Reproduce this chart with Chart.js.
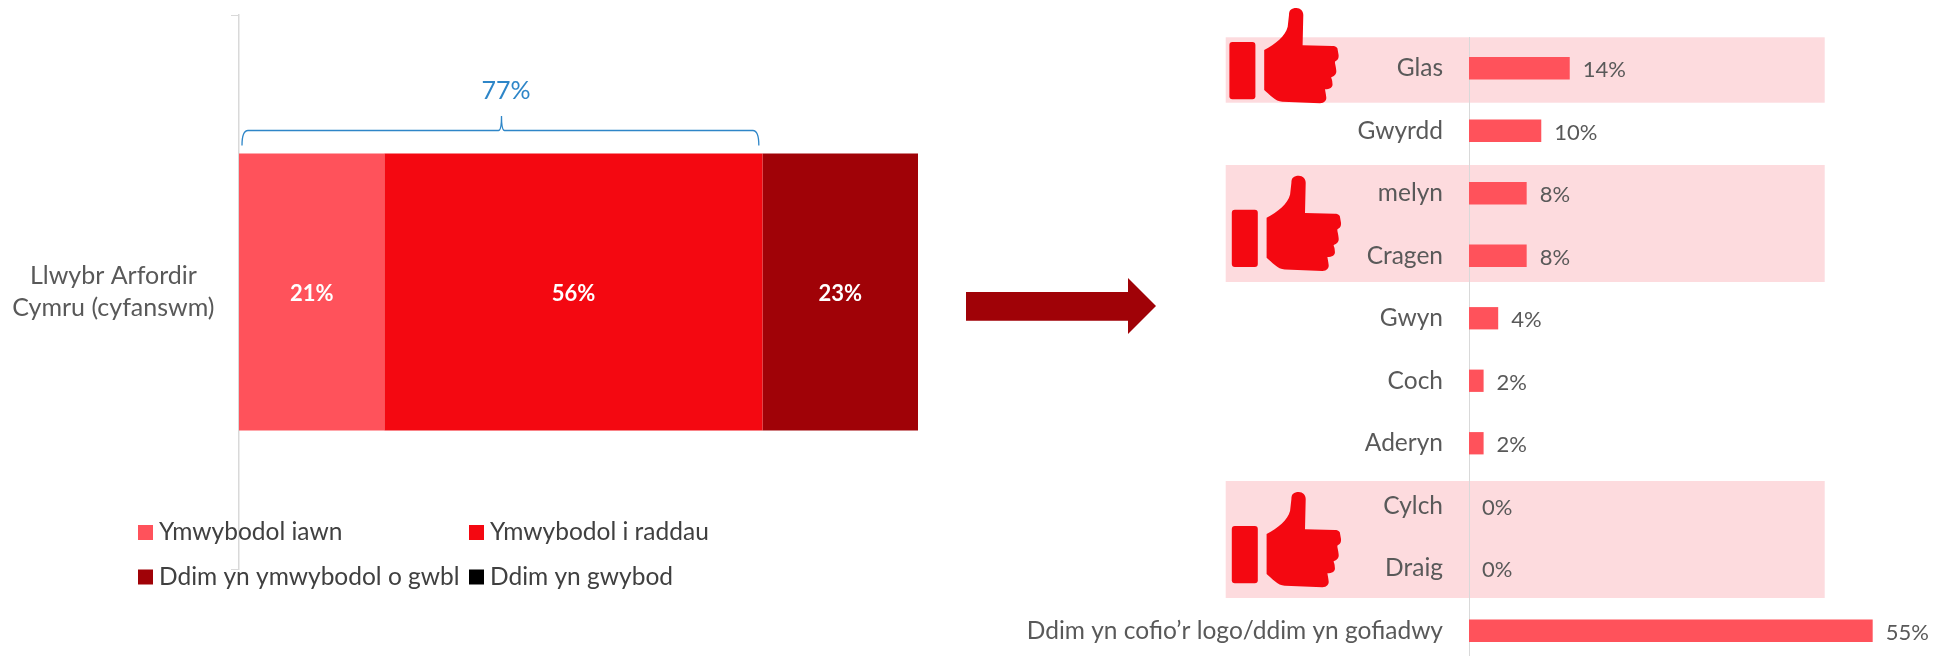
<!DOCTYPE html>
<html>
<head>
<meta charset="utf-8">
<script src="https://cdn.jsdelivr.net/npm/chart.js@4"></script>
<style>
html, body { margin: 0; padding: 0; background: #fff; overflow: hidden; }
body { width: 1933px; height: 656px; position: relative; }
canvas { position: absolute; top: 0; }
#awarenessChart { left: 0; }
#logoChart { left: 1000px; }
</style>
</head>
<body>
<canvas id="awarenessChart" width="1200" height="656"></canvas>
<canvas id="logoChart" width="933" height="662"></canvas>
<script>
const FONT = '"Lato", "Open Sans", sans-serif';

// left chart
const awarenessCategory = [["Llwybr Arfordir", "Cymru (cyfanswm)"]];
const awarenessLabels = ["Ymwybodol iawn", "Ymwybodol i raddau", "Ddim yn ymwybodol o gwbl", "Ddim yn gwybod"];
const awarenessValues = [21.4, 55.7, 22.9, 0];
const awarenessColors = ["#ff525b", "#f40811", "#a00207", "#000000"];
const bracketValue = 77;

// right chart
const logoCategories = ["Glas", "Gwyrdd", "melyn", "Cragen", "Gwyn", "Coch", "Aderyn", "Cylch", "Draig", "Ddim yn cofio’r logo/ddim yn gofiadwy"];
const logoValues = [13.8, 9.9, 7.9, 7.9, 4, 2, 2, 0, 0, 55.3];

// the scale pads itself by half a label + tick padding, we want exact plot edges
function fixAxis(width) {
    return function (scale) {
        scale.width = width;
        scale.paddingTop = 0;
        scale.paddingBottom = 0;
    };
}

// draws the 21% / 56% / 23% labels
const stackLabels = {
    id: 'stackLabels',
    afterDatasetsDraw(chart) {
        const ctx = chart.ctx;
        ctx.save();
        ctx.font = 'bold 22px ' + FONT;
        ctx.fillStyle = '#fff';
        ctx.textAlign = 'center';
        ctx.textBaseline = 'middle';
        chart.data.datasets.forEach((ds, i) => {
            if (!ds.data[0]) return;
            const bar = chart.getDatasetMeta(i).data[0];
            ctx.fillText(Math.round(ds.data[0]) + '%', (bar.x + bar.base) / 2, bar.y + 2);
        });
        ctx.restore();
    }
};

// brace over the "aware" part, the total above it, and the legend
const leftExtras = {
    id: 'leftExtras',
    afterDraw(chart) {
        const ctx = chart.ctx;
        const x = chart.scales.x;
        const l = x.getPixelForValue(0) + 3, r = x.getPixelForValue(bracketValue) - 3;
        const mid = 501.5;
        ctx.save();
        ctx.strokeStyle = '#2e86c8';
        ctx.lineWidth = 1.3;
        ctx.beginPath();
        ctx.moveTo(l, 145.5);
        ctx.quadraticCurveTo(l, 130.5, l + 6, 130.5);
        ctx.lineTo(mid - 3, 130.5);
        ctx.quadraticCurveTo(mid, 130.5, mid, 116);
        ctx.quadraticCurveTo(mid, 130.5, mid + 3, 130.5);
        ctx.lineTo(r - 6, 130.5);
        ctx.quadraticCurveTo(r, 130.5, r, 145.5);
        ctx.stroke();
        ctx.font = '25px ' + FONT;
        ctx.fillStyle = '#2e86c8';
        ctx.textAlign = 'center';
        ctx.textBaseline = 'middle';
        ctx.fillText(bracketValue + '%', 506, 91);

        // legend, 2 x 2
        const cols = [138, 469], rows = [532.5, 577];
        ctx.font = '24.5px ' + FONT;
        ctx.textAlign = 'left';
        chart.data.datasets.forEach((ds, i) => {
            const cx = cols[i % 2], cy = rows[i >> 1];
            ctx.fillStyle = ds.backgroundColor;
            ctx.fillRect(cx, cy - 7.5, 15, 15);
            ctx.fillStyle = '#404040';
            ctx.fillText(ds.label, cx + 21, cy);
        });
        ctx.restore();
    }
};

new Chart(document.getElementById('awarenessChart').getContext('2d'), {
    type: 'bar',
    data: {
        labels: awarenessCategory,
        datasets: awarenessLabels.map((label, i) => ({
            label: label,
            data: [awarenessValues[i]],
            backgroundColor: awarenessColors[i],
            categoryPercentage: 1,
            barPercentage: 0.5,
            inflateAmount: 0
        }))
    },
    options: {
        indexAxis: 'y',
        responsive: false,
        animation: false,
        layout: { padding: { top: 15, bottom: 87, right: 282, left: 0 } },
        plugins: { legend: { display: false }, tooltip: { enabled: false } },
        scales: {
            x: { display: false, stacked: true, min: 0, max: 100 },
            y: {
                stacked: true,
                afterFit: fixAxis(239),
                border: { color: '#d9d9d9', width: 1.5 },
                grid: { color: '#d9d9d9', drawOnChartArea: false, tickLength: 8, offset: true },
                ticks: {
                    color: '#595959',
                    crossAlign: 'center',
                    padding: 16.5,
                    font: { family: FONT, size: 25, lineHeight: '32px' }
                }
            }
        }
    },
    plugins: [stackLabels, leftExtras]
});

const bandBoxes = [[37.3, 102.7], [165, 282], [481, 598]];
const thumbSpots = [[229.4, 8], [231.8, 175.7], [231.8, 492]];
const thumbHand = new Path2D('M67 0 C62 0 59.6 2 59.6 7 L58.3 18.7 C56 28 46 36 34.8 42 L34.8 82 C40 86 46 94 53.4 93.7 L90.6 95.3 C95 95 97.5 92 96.8 88.7 C96.5 86 96 84 95.6 81.3 C100 81 104 80 103 75 C103 72 102 71 101.8 69.3 C105 68 107.5 66 106.8 62 C106.5 58 105.5 56 105.5 53.7 C108 52 109.5 51 109.2 47 L108 40.3 C107 38.5 105 38 103 38 L73.2 37.3 L73.9 7 C73.9 3 71 0 67 0 Z');

// pink highlight bands behind the scales and the thumbs on them
const rightExtras = {
    id: 'rightExtras',
    beforeDraw(chart) {
        const ctx = chart.ctx;
        ctx.save();
        ctx.fillStyle = '#fddbde';
        bandBoxes.forEach(b => ctx.fillRect(225.7, b[0], 599, b[1] - b[0]));
        ctx.fillStyle = '#f40811';
        thumbSpots.forEach(p => {
            ctx.save();
            ctx.translate(p[0], p[1]);
            ctx.beginPath();
            ctx.roundRect(0, 34, 26, 57.3, 3);
            ctx.fill();
            ctx.fill(thumbHand);
            ctx.restore();
        });
        ctx.restore();
    },
    afterDatasetsDraw(chart) {
        const ctx = chart.ctx;
        ctx.save();
        ctx.font = '22px ' + FONT;
        ctx.fillStyle = '#595959';
        ctx.textAlign = 'left';
        ctx.textBaseline = 'middle';
        chart.getDatasetMeta(0).data.forEach((bar, i) => {
            ctx.fillText(Math.round(logoValues[i]) + '%', bar.x + 13, bar.y + 2);
        });
        ctx.restore();
    }
};

new Chart(document.getElementById('logoChart').getContext('2d'), {
    type: 'bar',
    data: {
        labels: logoCategories,
        datasets: [{
            data: logoValues,
            backgroundColor: '#ff525b',
            categoryPercentage: 1,
            barPercentage: 0.357
        }]
    },
    options: {
        indexAxis: 'y',
        responsive: false,
        animation: false,
        layout: { padding: { top: 37, bottom: 0, right: 26, left: 0 } },
        plugins: { legend: { display: false }, tooltip: { enabled: false } },
        scales: {
            x: { display: false, min: 0, max: 60 },
            y: {
                afterFit: fixAxis(469),
                border: { color: '#d9d9d9', width: 1 },
                grid: { display: false },
                ticks: {
                    color: '#595959',
                    padding: 18,
                    autoSkip: false,
                    font: { family: FONT, size: 24.5 }
                }
            }
        }
    },
    plugins: [rightExtras]
});

// arrow between the two charts, drawn on the left canvas
const arrowCtx = document.getElementById('awarenessChart').getContext('2d');
arrowCtx.fillStyle = '#a00207';
arrowCtx.beginPath();
arrowCtx.moveTo(966, 292);
arrowCtx.lineTo(1128, 292);
arrowCtx.lineTo(1128, 278);
arrowCtx.lineTo(1156, 306);
arrowCtx.lineTo(1128, 334);
arrowCtx.lineTo(1128, 320.7);
arrowCtx.lineTo(966, 320.7);
arrowCtx.closePath();
arrowCtx.fill();
</script>
</body>
</html>
